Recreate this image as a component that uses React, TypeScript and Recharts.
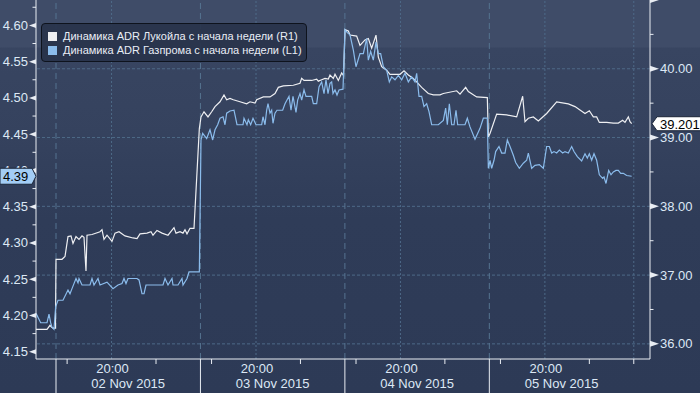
import React from 'react';
import { LineChart, Line, XAxis, YAxis, ReferenceLine, Legend } from 'recharts';

// time axis: trading hours since 02 Nov 15:00 (13 trading hours per session)
const lukoilT = [-1.80, -0.81, -0.54, -0.39, -0.27, -0.05, 0, 0.54, 0.81, 1.08, 1.35, 1.53, 1.80, 2.07, 2.34, 2.52, 2.70, 2.79, 3.24, 3.96, 4.14, 4.32, 4.59, 5.04, 5.31, 5.67, 6.21, 6.93, 7.29, 7.56, 8.19, 8.55, 8.73, 9.09, 9.54, 10.08, 10.62, 10.80, 11.16, 11.43, 11.61, 11.79, 12.06, 12.42, 12.90, 13.05, 13.32, 13.68, 14.01, 14.31, 14.76, 15.12, 15.36, 15.66, 15.96, 16.56, 17.16, 17.46, 17.91, 18.06, 18.66, 19.26, 19.71, 20.01, 20.46, 21.36, 21.96, 22.11, 22.32, 23.01, 23.46, 23.61, 23.91, 24.21, 24.51, 24.66, 24.96, 25.11, 25.41, 25.71, 25.88, 26.01, 26.31, 26.46, 27.06, 27.36, 27.81, 28.11, 28.41, 28.80, 29.01, 29.31, 29.76, 30.06, 30.96, 31.32, 31.71, 32.16, 32.46, 32.91, 33.51, 33.96, 34.56, 34.86, 36.06, 36.36, 36.87, 37.11, 37.86, 38.82, 38.91, 39.06, 39.66, 40.56, 41.46, 42.00, 42.21, 42.51, 42.96, 43.41, 44.16, 45.06, 46.11, 46.71, 47.61, 48.00, 48.36, 48.66, 48.90, 49.56, 50.16, 50.61, 51.00, 51.21, 51.51, 51.66, 51.81];
const lukoilV = [36.21, 36.21, 36.27, 36.24, 36.23, 36.23, 37.23, 37.23, 37.27, 37.56, 37.57, 37.46, 37.56, 37.52, 37.57, 37.55, 37.06, 37.58, 37.59, 37.63, 37.66, 37.52, 37.58, 37.49, 37.61, 37.63, 37.57, 37.54, 37.53, 37.60, 37.61, 37.63, 37.58, 37.65, 37.61, 37.58, 37.69, 37.61, 37.63, 37.61, 37.66, 37.60, 37.68, 37.68, 39.13, 39.30, 39.375, 39.30, 39.375, 39.45, 39.52, 39.62, 39.55, 39.57, 39.55, 39.52, 39.49, 39.52, 39.50, 39.55, 39.59, 39.59, 39.64, 39.73, 39.75, 39.76, 39.79, 39.86, 39.83, 39.83, 39.85, 39.82, 39.84, 39.86, 39.85, 39.91, 39.86, 39.92, 39.83, 39.94, 39.90, 40.57, 40.55, 40.49, 40.475, 40.34, 40.42, 40.44, 40.30, 40.49, 40.17, 40.03, 39.98, 39.92, 39.92, 39.97, 39.91, 39.86, 39.81, 39.73, 39.64, 39.62, 39.62, 39.64, 39.68, 39.63, 39.73, 39.67, 39.59, 39.58, 39.01, 39.06, 39.34, 39.33, 39.30, 39.60, 39.23, 39.28, 39.30, 39.24, 39.35, 39.52, 39.49, 39.45, 39.35, 39.39, 39.30, 39.30, 39.22, 39.22, 39.21, 39.21, 39.25, 39.22, 39.30, 39.23, 39.201];

const gazpromT = [-1.80, -1.38, -0.81, -0.63, -0.48, -0.36, -0.18, -0.03, 0.18, 0.63, 1.08, 1.26, 1.44, 1.80, 1.98, 2.07, 2.34, 3.06, 3.24, 3.42, 3.78, 3.96, 4.59, 5.13, 5.58, 5.94, 6.12, 6.30, 6.48, 7.29, 7.47, 7.74, 7.92, 8.10, 9.63, 9.81, 10.08, 10.44, 10.53, 10.98, 11.34, 11.43, 11.79, 11.97, 12.90, 13.05, 13.20, 13.56, 13.86, 14.10, 14.31, 14.55, 14.76, 15.03, 15.21, 15.36, 15.66, 16.02, 16.29, 16.83, 16.92, 17.19, 17.31, 17.52, 17.73, 18.00, 18.51, 18.63, 18.81, 18.96, 19.08, 19.26, 19.41, 19.53, 19.71, 19.89, 20.40, 20.61, 20.79, 20.97, 21.15, 21.33, 21.60, 21.75, 21.96, 22.11, 22.32, 22.50, 23.01, 23.16, 23.46, 23.67, 23.91, 24.12, 24.30, 24.48, 24.66, 24.81, 24.93, 25.11, 25.29, 25.47, 25.83, 26.01, 26.22, 26.46, 26.76, 27.00, 27.36, 27.66, 27.96, 28.11, 28.32, 28.56, 28.80, 29.01, 29.22, 29.46, 29.76, 30.00, 30.21, 30.51, 30.81, 31.11, 31.41, 31.71, 32.01, 32.31, 32.46, 32.67, 32.91, 33.12, 33.36, 33.57, 33.81, 34.41, 34.86, 35.07, 35.22, 35.40, 35.61, 35.82, 36.00, 36.15, 36.81, 37.02, 37.26, 37.71, 38.16, 38.46, 38.82, 38.91, 39.06, 39.21, 39.42, 39.57, 39.87, 40.11, 40.41, 40.62, 40.86, 41.16, 41.37, 41.70, 42.06, 42.36, 42.51, 42.81, 43.11, 43.50, 43.86, 44.16, 44.40, 44.61, 44.82, 45.06, 45.30, 45.60, 45.81, 46.11, 46.41, 46.62, 46.92, 47.31, 47.61, 47.82, 48.00, 48.21, 48.42, 48.66, 48.90, 49.20, 49.32, 49.50, 49.74, 49.95, 50.16, 50.40, 50.61, 50.82, 51.06, 51.36, 51.81];
const gazpromV = [4.203, 4.190, 4.190, 4.202, 4.190, 4.184, 4.181, 4.212, 4.221, 4.221, 4.235, 4.230, 4.237, 4.251, 4.245, 4.251, 4.242, 4.242, 4.251, 4.242, 4.251, 4.242, 4.246, 4.237, 4.242, 4.244, 4.251, 4.244, 4.251, 4.251, 4.249, 4.230, 4.230, 4.242, 4.242, 4.251, 4.242, 4.251, 4.242, 4.242, 4.251, 4.242, 4.251, 4.260, 4.260, 4.442, 4.451, 4.444, 4.456, 4.442, 4.456, 4.463, 4.472, 4.474, 4.463, 4.479, 4.482, 4.483, 4.463, 4.463, 4.472, 4.463, 4.470, 4.463, 4.472, 4.463, 4.463, 4.474, 4.463, 4.483, 4.492, 4.479, 4.483, 4.465, 4.479, 4.483, 4.483, 4.492, 4.497, 4.502, 4.483, 4.502, 4.480, 4.497, 4.506, 4.497, 4.511, 4.502, 4.502, 4.492, 4.492, 4.515, 4.522, 4.506, 4.525, 4.506, 4.520, 4.522, 4.506, 4.511, 4.504, 4.511, 4.512, 4.594, 4.590, 4.587, 4.566, 4.543, 4.561, 4.561, 4.582, 4.552, 4.564, 4.552, 4.577, 4.561, 4.561, 4.543, 4.538, 4.522, 4.529, 4.525, 4.531, 4.525, 4.534, 4.522, 4.529, 4.522, 4.534, 4.502, 4.502, 4.488, 4.492, 4.481, 4.463, 4.463, 4.469, 4.486, 4.463, 4.492, 4.463, 4.463, 4.483, 4.463, 4.463, 4.472, 4.460, 4.443, 4.458, 4.472, 4.472, 4.403, 4.414, 4.403, 4.414, 4.426, 4.433, 4.424, 4.424, 4.442, 4.433, 4.421, 4.411, 4.403, 4.410, 4.414, 4.424, 4.403, 4.407, 4.408, 4.403, 4.433, 4.433, 4.424, 4.426, 4.424, 4.428, 4.424, 4.426, 4.424, 4.433, 4.426, 4.419, 4.413, 4.423, 4.417, 4.423, 4.414, 4.423, 4.414, 4.394, 4.389, 4.391, 4.382, 4.400, 4.394, 4.398, 4.400, 4.400, 4.396, 4.396, 4.393, 4.392];

const seriesNames = ['Динамика ADR Лукойла с начала недели (R1)', 'Динамика ADR Газпрома с начала недели (L1)'];

const leftMajor = [4.15, 4.2, 4.25, 4.3, 4.35, 4.4, 4.45, 4.5, 4.55, 4.6];
const leftMinor = [4.175, 4.225, 4.275, 4.325, 4.375, 4.425, 4.475, 4.525, 4.575, 4.625];
const rightMajor = [36, 37, 38, 39, 40, 41];
const rightMinor = [36.5, 37.5, 38.5, 39.5, 40.5];

const dayStarts = [0, 13, 26, 39];
const dayLabels = ['02 Nov 2015', '03 Nov 2015', '04 Nov 2015', '05 Nov 2015'];
const eveningTicks = [5, 18, 31, 44];
const eveningLabel = '20:00';
const minorTicks = [1, 9, 14, 22, 27, 35, 40, 48, 52];

const X_DOMAIN: [number, number] = [-1.8, 53.46];
const L_DOMAIN: [number, number] = [4.14, 4.635];
const R_DOMAIN: [number, number] = [35.78, 41.0];

const FONT = '"Liberation Sans", Arial, sans-serif';
const AXIS = '#e9edf3';
const LABEL = '#dde8f5';
const WHITE_LINE = '#eeeff2';
const BLUE_LINE = '#8bbcec';
const DASH = '#557390';
const DOT = '#4e6a88';

const lastGazprom = gazpromV[gazpromV.length - 1];
const lastLukoil = lukoilV[lukoilV.length - 1];

const lukoilData = lukoilT.map((t, i) => ({ t, v: lukoilV[i] }));
const gazpromData = gazpromT.map((t, i) => ({ t, v: gazpromV[i] }));
const dayMids = dayStarts.map((d) => d + 6.5);
const xTicks = [...dayStarts, ...eveningTicks, ...minorTicks, ...dayMids].sort((a, b) => a - b);

const near = (arr: number[], v: number) => arr.findIndex((a) => Math.abs(a - v) < 1e-6);

const XTick = (props: any) => {
  const { x, y, payload } = props;
  const v: number = payload.value;
  if (near(dayStarts, v) >= 0) {
    return <line x1={x} y1={y} x2={x} y2={393} stroke={AXIS} strokeWidth={1} />;
  }
  if (near(eveningTicks, v) >= 0) {
    return (
      <text x={x + 1} y={y + 14} textAnchor="middle" fill={LABEL} fontSize={13} fontFamily={FONT}>
        {eveningLabel}
      </text>
    );
  }
  const mi = near(dayMids, v);
  if (mi >= 0) {
    return (
      <text x={x} y={y + 29} textAnchor="middle" fill={LABEL} fontSize={13} fontFamily={FONT}>
        {dayLabels[mi]}
      </text>
    );
  }
  return <line x1={x} y1={y} x2={x} y2={y + 5} stroke={AXIS} strokeWidth={1} />;
};

const LeftTick = (props: any) => {
  const { x, y, payload } = props;
  const v: number = payload.value;
  if (Math.abs(v - lastGazprom) < 1e-9) {
    const l = x - 36;
    return (
      <g>
        <polygon
          points={`${l},${y - 8} ${x - 4},${y - 8} ${x},${y} ${x - 4},${y + 8} ${l},${y + 8}`}
          fill="#a3cdf5"
          stroke="#1b2538"
          strokeWidth={1}
        />
        <text x={l + 3} y={y + 5} fill="#000" fontSize={13} fontFamily={FONT}>
          {lastGazprom.toFixed(2)}
        </text>
      </g>
    );
  }
  if (near(leftMajor, v) < 0) {
    return <line x1={x - 3.5} y1={y} x2={x} y2={y} stroke={AXIS} strokeWidth={1} />;
  }
  return (
    <g>
      <polygon points={`${x},${y - 2.5} ${x},${y + 2.5} ${x - 7},${y}`} fill={AXIS} />
      <text x={x - 8} y={y + 4.5} textAnchor="end" fill={LABEL} fontSize={13} fontFamily={FONT}>
        {v.toFixed(2)}
      </text>
    </g>
  );
};

const RightTick = (props: any) => {
  const { x, y, payload } = props;
  const v: number = payload.value;
  if (Math.abs(v - lastLukoil) < 1e-9) {
    return (
      <g>
        <polygon
          points={`${x + 2},${y} ${x + 7},${y - 7} ${x + 60},${y - 7} ${x + 60},${y + 7} ${x + 7},${y + 7}`}
          fill="#ffffff"
          stroke="#1b2538"
          strokeWidth={1}
        />
        <text x={x + 10} y={y + 5} fill="#000" fontSize={13} fontFamily={FONT}>
          {lastLukoil.toFixed(3)}
        </text>
      </g>
    );
  }
  if (near(rightMajor, v) < 0) {
    return <line x1={x} y1={y} x2={x + 3.5} y2={y} stroke={AXIS} strokeWidth={1} />;
  }
  return (
    <g>
      <polygon points={`${x},${y - 3} ${x},${y + 3} ${x + 9},${y}`} fill={AXIS} />
      {y > 8 && (
        <text x={x + 10} y={y + 4.5} textAnchor="start" fill={LABEL} fontSize={13} fontFamily={FONT}>
          {v.toFixed(2)}
        </text>
      )}
    </g>
  );
};

const LegendBox = (props: any) => {
  const items = [...(props.payload || [])].sort(
    (a: any, b: any) => seriesNames.indexOf(a.value) - seriesNames.indexOf(b.value)
  );
  return (
    <div
      style={{
        boxSizing: 'border-box',
        width: 266,
        height: 39,
        background: 'rgba(40,51,75,0.92)',
        border: '1px solid #0e131d',
        borderRadius: 4,
        padding: '1px 0 0 6px',
        fontFamily: FONT,
      }}
    >
      {items.map((it: any, i: number) => (
        <div key={i} style={{ display: 'flex', alignItems: 'center', height: 14, marginTop: i === 0 ? 4 : 0 }}>
          <span style={{ display: 'inline-block', width: 9, height: 9, background: it.color, marginRight: 6 }} />
          <span style={{ color: '#e9eef6', fontSize: 11, whiteSpace: 'nowrap', lineHeight: '14px' }}>{it.value}</span>
        </div>
      ))}
    </div>
  );
};

export default function App() {
  return (
    <div
      style={{
        position: 'fixed',
        left: 0,
        top: 0,
        width: 700,
        height: 393,
        background:
          'linear-gradient(to bottom, #3f4c68 0px, #3f4c68 47px, #384561 48px, #35425e 135px, #2f3c58 220px, #2d3a56 393px)',
      }}
    >
      <LineChart width={700} height={393} margin={{ top: 0, right: 0, bottom: 0, left: 0 }}>
        <XAxis
          dataKey="t"
          type="number"
          domain={X_DOMAIN}
          allowDataOverflow
          ticks={xTicks}
          interval={0}
          tick={<XTick />}
          tickLine={false}
          tickSize={0}
          tickMargin={0}
          axisLine={{ stroke: AXIS, strokeWidth: 1 }}
          height={34}
        />
        {rightMajor.slice(0, 5).map((v) => (
          <ReferenceLine key={'h' + v} yAxisId="right" y={v} stroke={DOT} strokeDasharray="3 2" strokeWidth={1} />
        ))}
        {dayStarts.map((d) => (
          <ReferenceLine key={'d' + d} yAxisId="right" x={d} stroke={DASH} strokeDasharray="6 4" strokeWidth={1} />
        ))}
        {[...eveningTicks, 52].map((d) => (
          <ReferenceLine key={'e' + d} yAxisId="right" x={d} stroke={DOT} strokeDasharray="2 2" strokeWidth={1} />
        ))}
        <Line
          data={lukoilData}
          dataKey="v"
          name={seriesNames[0]}
          yAxisId="right"
          type="linear"
          stroke={WHITE_LINE}
          strokeWidth={1.2}
          dot={false}
          activeDot={false}
          isAnimationActive={false}
        />
        <Line
          data={gazpromData}
          dataKey="v"
          name={seriesNames[1]}
          yAxisId="left"
          type="linear"
          stroke={BLUE_LINE}
          strokeWidth={1.2}
          dot={false}
          activeDot={false}
          isAnimationActive={false}
        />
        <YAxis
          yAxisId="left"
          orientation="left"
          domain={L_DOMAIN}
          allowDataOverflow
          ticks={[...leftMajor, ...leftMinor, lastGazprom]}
          interval={0}
          tick={<LeftTick />}
          tickLine={false}
          tickSize={0}
          tickMargin={0}
          axisLine={{ stroke: AXIS, strokeWidth: 1 }}
          width={36}
        />
        <YAxis
          yAxisId="right"
          orientation="right"
          domain={R_DOMAIN}
          allowDataOverflow
          ticks={[...rightMajor, ...rightMinor, lastLukoil]}
          interval={0}
          tick={<RightTick />}
          tickLine={false}
          tickSize={0}
          tickMargin={0}
          axisLine={{ stroke: AXIS, strokeWidth: 1 }}
          width={50}
        />
        <Legend
          layout="vertical"
          align="center"
          verticalAlign="middle"
          wrapperStyle={{ left: 41, top: 23, width: 266, height: 39 }}
          content={<LegendBox />}
        />
      </LineChart>
    </div>
  );
}
